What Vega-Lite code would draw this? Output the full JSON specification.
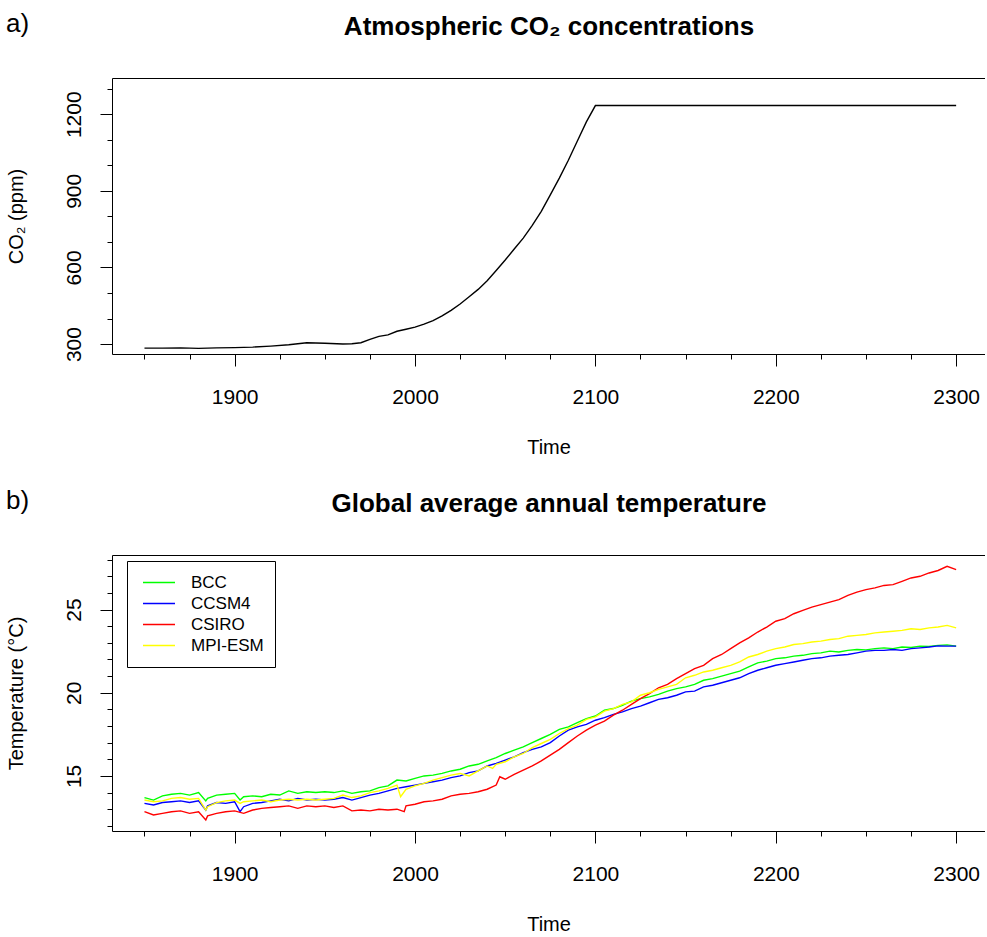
{
  "$schema": "https://vega.github.io/schema/vega-lite/v6.json",
  "padding": {"left": 5, "top": 11, "right": 0, "bottom": 0},
  "spacing": 31,
  "config": {
    "font": "Liberation Sans",
    "view": {"stroke": null},
    "title": {"anchor": "start", "frame": "bounds", "fontSize": 26, "fontWeight": "normal", "color": "black", "offset": 0, "font": "Liberation Sans"},
    "axis": {"domainColor": "black", "tickColor": "black", "labelColor": "black", "titleColor": "black", "labelFont": "Liberation Sans", "titleFont": "Liberation Sans", "labelFontSize": 21, "titleFontSize": 20, "titleFontWeight": "normal", "grid": false, "labelOverlap": false, "labelFlush": false, "domainWidth": 1, "tickWidth": 1}
  },
  "datasets": {
    "co2": [
      {"year": 1850, "co2": 284}, {"year": 1860, "co2": 284}, {"year": 1870, "co2": 285}, {"year": 1880, "co2": 283},
      {"year": 1890, "co2": 285}, {"year": 1900, "co2": 286}, {"year": 1910, "co2": 288}, {"year": 1920, "co2": 292},
      {"year": 1930, "co2": 297}, {"year": 1940, "co2": 305}, {"year": 1950, "co2": 303}, {"year": 1960, "co2": 300},
      {"year": 1965, "co2": 301}, {"year": 1970, "co2": 305}, {"year": 1975, "co2": 318}, {"year": 1980, "co2": 330},
      {"year": 1985, "co2": 336}, {"year": 1990, "co2": 350}, {"year": 1995, "co2": 358}, {"year": 2000, "co2": 366},
      {"year": 2005, "co2": 378}, {"year": 2010, "co2": 392}, {"year": 2015, "co2": 410}, {"year": 2020, "co2": 432},
      {"year": 2025, "co2": 457}, {"year": 2030, "co2": 485}, {"year": 2035, "co2": 514}, {"year": 2040, "co2": 548},
      {"year": 2045, "co2": 588}, {"year": 2050, "co2": 629}, {"year": 2055, "co2": 672}, {"year": 2060, "co2": 715},
      {"year": 2065, "co2": 765}, {"year": 2070, "co2": 820}, {"year": 2075, "co2": 884}, {"year": 2080, "co2": 950},
      {"year": 2085, "co2": 1020}, {"year": 2090, "co2": 1095}, {"year": 2095, "co2": 1170}, {"year": 2100, "co2": 1234},
      {"year": 2300, "co2": 1234}
    ],
    "temp": [
      {"model": "BCC", "year": 1850, "temp": 13.7}, {"model": "BCC", "year": 1855, "temp": 13.55}, {"model": "BCC", "year": 1860, "temp": 13.8}, {"model": "BCC", "year": 1865, "temp": 13.9}, {"model": "BCC", "year": 1870, "temp": 13.95}, {"model": "BCC", "year": 1875, "temp": 13.85}, {"model": "BCC", "year": 1880, "temp": 14.0}, {"model": "BCC", "year": 1884, "temp": 13.5}, {"model": "BCC", "year": 1885, "temp": 13.65}, {"model": "BCC", "year": 1890, "temp": 13.85}, {"model": "BCC", "year": 1895, "temp": 13.9}, {"model": "BCC", "year": 1900, "temp": 13.95}, {"model": "BCC", "year": 1903, "temp": 13.55}, {"model": "BCC", "year": 1905, "temp": 13.75}, {"model": "BCC", "year": 1910, "temp": 13.8}, {"model": "BCC", "year": 1915, "temp": 13.75}, {"model": "BCC", "year": 1920, "temp": 13.9}, {"model": "BCC", "year": 1925, "temp": 13.85}, {"model": "BCC", "year": 1930, "temp": 14.1}, {"model": "BCC", "year": 1935, "temp": 13.95}, {"model": "BCC", "year": 1940, "temp": 14.05}, {"model": "BCC", "year": 1945, "temp": 14.0}, {"model": "BCC", "year": 1950, "temp": 14.05}, {"model": "BCC", "year": 1955, "temp": 14.0}, {"model": "BCC", "year": 1960, "temp": 14.1}, {"model": "BCC", "year": 1965, "temp": 13.95}, {"model": "BCC", "year": 1970, "temp": 14.05}, {"model": "BCC", "year": 1975, "temp": 14.1}, {"model": "BCC", "year": 1980, "temp": 14.3}, {"model": "BCC", "year": 1985, "temp": 14.4}, {"model": "BCC", "year": 1990, "temp": 14.75}, {"model": "BCC", "year": 1995, "temp": 14.7}, {"model": "BCC", "year": 2000, "temp": 14.85}, {"model": "BCC", "year": 2005, "temp": 15.0}, {"model": "BCC", "year": 2010, "temp": 15.05}, {"model": "BCC", "year": 2015, "temp": 15.15}, {"model": "BCC", "year": 2020, "temp": 15.3}, {"model": "BCC", "year": 2025, "temp": 15.4}, {"model": "BCC", "year": 2030, "temp": 15.6}, {"model": "BCC", "year": 2035, "temp": 15.7}, {"model": "BCC", "year": 2040, "temp": 15.9}, {"model": "BCC", "year": 2045, "temp": 16.1}, {"model": "BCC", "year": 2050, "temp": 16.35}, {"model": "BCC", "year": 2055, "temp": 16.55}, {"model": "BCC", "year": 2060, "temp": 16.75}, {"model": "BCC", "year": 2065, "temp": 17.0}, {"model": "BCC", "year": 2070, "temp": 17.25}, {"model": "BCC", "year": 2075, "temp": 17.5}, {"model": "BCC", "year": 2080, "temp": 17.8}, {"model": "BCC", "year": 2085, "temp": 17.95}, {"model": "BCC", "year": 2090, "temp": 18.2}, {"model": "BCC", "year": 2095, "temp": 18.45}, {"model": "BCC", "year": 2100, "temp": 18.6}, {"model": "BCC", "year": 2105, "temp": 18.95}, {"model": "BCC", "year": 2110, "temp": 19.05}, {"model": "BCC", "year": 2115, "temp": 19.25}, {"model": "BCC", "year": 2120, "temp": 19.5}, {"model": "BCC", "year": 2125, "temp": 19.65}, {"model": "BCC", "year": 2130, "temp": 19.75}, {"model": "BCC", "year": 2135, "temp": 19.9}, {"model": "BCC", "year": 2140, "temp": 20.1}, {"model": "BCC", "year": 2145, "temp": 20.25}, {"model": "BCC", "year": 2150, "temp": 20.35}, {"model": "BCC", "year": 2155, "temp": 20.5}, {"model": "BCC", "year": 2160, "temp": 20.75}, {"model": "BCC", "year": 2165, "temp": 20.85}, {"model": "BCC", "year": 2170, "temp": 21.0}, {"model": "BCC", "year": 2175, "temp": 21.15}, {"model": "BCC", "year": 2180, "temp": 21.3}, {"model": "BCC", "year": 2185, "temp": 21.55}, {"model": "BCC", "year": 2190, "temp": 21.8}, {"model": "BCC", "year": 2195, "temp": 21.9}, {"model": "BCC", "year": 2200, "temp": 22.05}, {"model": "BCC", "year": 2205, "temp": 22.1}, {"model": "BCC", "year": 2210, "temp": 22.2}, {"model": "BCC", "year": 2215, "temp": 22.25}, {"model": "BCC", "year": 2220, "temp": 22.35}, {"model": "BCC", "year": 2225, "temp": 22.4}, {"model": "BCC", "year": 2230, "temp": 22.5}, {"model": "BCC", "year": 2235, "temp": 22.45}, {"model": "BCC", "year": 2240, "temp": 22.55}, {"model": "BCC", "year": 2245, "temp": 22.6}, {"model": "BCC", "year": 2250, "temp": 22.58}, {"model": "BCC", "year": 2255, "temp": 22.65}, {"model": "BCC", "year": 2260, "temp": 22.7}, {"model": "BCC", "year": 2265, "temp": 22.65}, {"model": "BCC", "year": 2270, "temp": 22.75}, {"model": "BCC", "year": 2275, "temp": 22.72}, {"model": "BCC", "year": 2280, "temp": 22.8}, {"model": "BCC", "year": 2285, "temp": 22.78}, {"model": "BCC", "year": 2290, "temp": 22.85}, {"model": "BCC", "year": 2295, "temp": 22.88}, {"model": "BCC", "year": 2300, "temp": 22.8},

      {"model": "CCSM4", "year": 1850, "temp": 13.35}, {"model": "CCSM4", "year": 1855, "temp": 13.25}, {"model": "CCSM4", "year": 1860, "temp": 13.4}, {"model": "CCSM4", "year": 1865, "temp": 13.45}, {"model": "CCSM4", "year": 1870, "temp": 13.5}, {"model": "CCSM4", "year": 1875, "temp": 13.4}, {"model": "CCSM4", "year": 1880, "temp": 13.5}, {"model": "CCSM4", "year": 1884, "temp": 12.95}, {"model": "CCSM4", "year": 1885, "temp": 13.2}, {"model": "CCSM4", "year": 1890, "temp": 13.4}, {"model": "CCSM4", "year": 1895, "temp": 13.35}, {"model": "CCSM4", "year": 1900, "temp": 13.45}, {"model": "CCSM4", "year": 1903, "temp": 12.85}, {"model": "CCSM4", "year": 1905, "temp": 13.15}, {"model": "CCSM4", "year": 1910, "temp": 13.35}, {"model": "CCSM4", "year": 1915, "temp": 13.4}, {"model": "CCSM4", "year": 1920, "temp": 13.5}, {"model": "CCSM4", "year": 1925, "temp": 13.6}, {"model": "CCSM4", "year": 1930, "temp": 13.5}, {"model": "CCSM4", "year": 1935, "temp": 13.65}, {"model": "CCSM4", "year": 1940, "temp": 13.55}, {"model": "CCSM4", "year": 1945, "temp": 13.6}, {"model": "CCSM4", "year": 1950, "temp": 13.55}, {"model": "CCSM4", "year": 1955, "temp": 13.6}, {"model": "CCSM4", "year": 1960, "temp": 13.7}, {"model": "CCSM4", "year": 1965, "temp": 13.55}, {"model": "CCSM4", "year": 1970, "temp": 13.7}, {"model": "CCSM4", "year": 1975, "temp": 13.85}, {"model": "CCSM4", "year": 1980, "temp": 13.95}, {"model": "CCSM4", "year": 1985, "temp": 14.1}, {"model": "CCSM4", "year": 1990, "temp": 14.25}, {"model": "CCSM4", "year": 1995, "temp": 14.35}, {"model": "CCSM4", "year": 2000, "temp": 14.45}, {"model": "CCSM4", "year": 2005, "temp": 14.55}, {"model": "CCSM4", "year": 2010, "temp": 14.65}, {"model": "CCSM4", "year": 2015, "temp": 14.75}, {"model": "CCSM4", "year": 2020, "temp": 14.9}, {"model": "CCSM4", "year": 2025, "temp": 15.0}, {"model": "CCSM4", "year": 2030, "temp": 15.2}, {"model": "CCSM4", "year": 2035, "temp": 15.3}, {"model": "CCSM4", "year": 2040, "temp": 15.6}, {"model": "CCSM4", "year": 2045, "temp": 15.75}, {"model": "CCSM4", "year": 2050, "temp": 15.95}, {"model": "CCSM4", "year": 2055, "temp": 16.15}, {"model": "CCSM4", "year": 2060, "temp": 16.4}, {"model": "CCSM4", "year": 2065, "temp": 16.6}, {"model": "CCSM4", "year": 2070, "temp": 16.75}, {"model": "CCSM4", "year": 2075, "temp": 17.0}, {"model": "CCSM4", "year": 2080, "temp": 17.4}, {"model": "CCSM4", "year": 2085, "temp": 17.75}, {"model": "CCSM4", "year": 2090, "temp": 17.95}, {"model": "CCSM4", "year": 2095, "temp": 18.1}, {"model": "CCSM4", "year": 2100, "temp": 18.35}, {"model": "CCSM4", "year": 2105, "temp": 18.5}, {"model": "CCSM4", "year": 2110, "temp": 18.7}, {"model": "CCSM4", "year": 2115, "temp": 18.85}, {"model": "CCSM4", "year": 2120, "temp": 19.05}, {"model": "CCSM4", "year": 2125, "temp": 19.2}, {"model": "CCSM4", "year": 2130, "temp": 19.4}, {"model": "CCSM4", "year": 2135, "temp": 19.6}, {"model": "CCSM4", "year": 2140, "temp": 19.7}, {"model": "CCSM4", "year": 2145, "temp": 19.85}, {"model": "CCSM4", "year": 2150, "temp": 20.05}, {"model": "CCSM4", "year": 2155, "temp": 20.1}, {"model": "CCSM4", "year": 2160, "temp": 20.35}, {"model": "CCSM4", "year": 2165, "temp": 20.45}, {"model": "CCSM4", "year": 2170, "temp": 20.6}, {"model": "CCSM4", "year": 2175, "temp": 20.75}, {"model": "CCSM4", "year": 2180, "temp": 20.9}, {"model": "CCSM4", "year": 2185, "temp": 21.15}, {"model": "CCSM4", "year": 2190, "temp": 21.35}, {"model": "CCSM4", "year": 2195, "temp": 21.5}, {"model": "CCSM4", "year": 2200, "temp": 21.65}, {"model": "CCSM4", "year": 2205, "temp": 21.75}, {"model": "CCSM4", "year": 2210, "temp": 21.85}, {"model": "CCSM4", "year": 2215, "temp": 21.95}, {"model": "CCSM4", "year": 2220, "temp": 22.05}, {"model": "CCSM4", "year": 2225, "temp": 22.1}, {"model": "CCSM4", "year": 2230, "temp": 22.2}, {"model": "CCSM4", "year": 2235, "temp": 22.25}, {"model": "CCSM4", "year": 2240, "temp": 22.3}, {"model": "CCSM4", "year": 2245, "temp": 22.4}, {"model": "CCSM4", "year": 2250, "temp": 22.5}, {"model": "CCSM4", "year": 2255, "temp": 22.55}, {"model": "CCSM4", "year": 2260, "temp": 22.55}, {"model": "CCSM4", "year": 2265, "temp": 22.6}, {"model": "CCSM4", "year": 2270, "temp": 22.55}, {"model": "CCSM4", "year": 2275, "temp": 22.65}, {"model": "CCSM4", "year": 2280, "temp": 22.7}, {"model": "CCSM4", "year": 2285, "temp": 22.75}, {"model": "CCSM4", "year": 2290, "temp": 22.82}, {"model": "CCSM4", "year": 2295, "temp": 22.8}, {"model": "CCSM4", "year": 2300, "temp": 22.8},

      {"model": "CSIRO", "year": 1850, "temp": 12.85}, {"model": "CSIRO", "year": 1855, "temp": 12.65}, {"model": "CSIRO", "year": 1860, "temp": 12.75}, {"model": "CSIRO", "year": 1865, "temp": 12.85}, {"model": "CSIRO", "year": 1870, "temp": 12.9}, {"model": "CSIRO", "year": 1875, "temp": 12.75}, {"model": "CSIRO", "year": 1880, "temp": 12.85}, {"model": "CSIRO", "year": 1884, "temp": 12.35}, {"model": "CSIRO", "year": 1885, "temp": 12.6}, {"model": "CSIRO", "year": 1890, "temp": 12.75}, {"model": "CSIRO", "year": 1895, "temp": 12.85}, {"model": "CSIRO", "year": 1900, "temp": 12.9}, {"model": "CSIRO", "year": 1905, "temp": 12.75}, {"model": "CSIRO", "year": 1910, "temp": 12.95}, {"model": "CSIRO", "year": 1915, "temp": 13.05}, {"model": "CSIRO", "year": 1920, "temp": 13.1}, {"model": "CSIRO", "year": 1925, "temp": 13.15}, {"model": "CSIRO", "year": 1930, "temp": 13.2}, {"model": "CSIRO", "year": 1935, "temp": 13.05}, {"model": "CSIRO", "year": 1940, "temp": 13.2}, {"model": "CSIRO", "year": 1945, "temp": 13.15}, {"model": "CSIRO", "year": 1950, "temp": 13.2}, {"model": "CSIRO", "year": 1955, "temp": 13.1}, {"model": "CSIRO", "year": 1960, "temp": 13.2}, {"model": "CSIRO", "year": 1965, "temp": 12.9}, {"model": "CSIRO", "year": 1970, "temp": 12.95}, {"model": "CSIRO", "year": 1975, "temp": 12.9}, {"model": "CSIRO", "year": 1980, "temp": 13.0}, {"model": "CSIRO", "year": 1985, "temp": 12.95}, {"model": "CSIRO", "year": 1990, "temp": 13.0}, {"model": "CSIRO", "year": 1994, "temp": 12.85}, {"model": "CSIRO", "year": 1995, "temp": 13.2}, {"model": "CSIRO", "year": 2000, "temp": 13.3}, {"model": "CSIRO", "year": 2005, "temp": 13.45}, {"model": "CSIRO", "year": 2010, "temp": 13.5}, {"model": "CSIRO", "year": 2015, "temp": 13.6}, {"model": "CSIRO", "year": 2020, "temp": 13.8}, {"model": "CSIRO", "year": 2025, "temp": 13.9}, {"model": "CSIRO", "year": 2030, "temp": 13.95}, {"model": "CSIRO", "year": 2035, "temp": 14.05}, {"model": "CSIRO", "year": 2040, "temp": 14.2}, {"model": "CSIRO", "year": 2045, "temp": 14.45}, {"model": "CSIRO", "year": 2047, "temp": 14.95}, {"model": "CSIRO", "year": 2050, "temp": 14.8}, {"model": "CSIRO", "year": 2055, "temp": 15.1}, {"model": "CSIRO", "year": 2060, "temp": 15.35}, {"model": "CSIRO", "year": 2065, "temp": 15.6}, {"model": "CSIRO", "year": 2070, "temp": 15.9}, {"model": "CSIRO", "year": 2075, "temp": 16.25}, {"model": "CSIRO", "year": 2080, "temp": 16.6}, {"model": "CSIRO", "year": 2085, "temp": 17.0}, {"model": "CSIRO", "year": 2090, "temp": 17.4}, {"model": "CSIRO", "year": 2095, "temp": 17.75}, {"model": "CSIRO", "year": 2100, "temp": 18.05}, {"model": "CSIRO", "year": 2105, "temp": 18.3}, {"model": "CSIRO", "year": 2110, "temp": 18.65}, {"model": "CSIRO", "year": 2115, "temp": 18.95}, {"model": "CSIRO", "year": 2120, "temp": 19.3}, {"model": "CSIRO", "year": 2125, "temp": 19.65}, {"model": "CSIRO", "year": 2130, "temp": 19.95}, {"model": "CSIRO", "year": 2135, "temp": 20.3}, {"model": "CSIRO", "year": 2140, "temp": 20.5}, {"model": "CSIRO", "year": 2145, "temp": 20.85}, {"model": "CSIRO", "year": 2150, "temp": 21.15}, {"model": "CSIRO", "year": 2155, "temp": 21.45}, {"model": "CSIRO", "year": 2160, "temp": 21.65}, {"model": "CSIRO", "year": 2165, "temp": 22.05}, {"model": "CSIRO", "year": 2170, "temp": 22.3}, {"model": "CSIRO", "year": 2175, "temp": 22.65}, {"model": "CSIRO", "year": 2180, "temp": 23.0}, {"model": "CSIRO", "year": 2185, "temp": 23.3}, {"model": "CSIRO", "year": 2190, "temp": 23.65}, {"model": "CSIRO", "year": 2195, "temp": 23.95}, {"model": "CSIRO", "year": 2200, "temp": 24.3}, {"model": "CSIRO", "year": 2205, "temp": 24.45}, {"model": "CSIRO", "year": 2210, "temp": 24.75}, {"model": "CSIRO", "year": 2215, "temp": 24.95}, {"model": "CSIRO", "year": 2220, "temp": 25.15}, {"model": "CSIRO", "year": 2225, "temp": 25.3}, {"model": "CSIRO", "year": 2230, "temp": 25.45}, {"model": "CSIRO", "year": 2235, "temp": 25.6}, {"model": "CSIRO", "year": 2240, "temp": 25.85}, {"model": "CSIRO", "year": 2245, "temp": 26.05}, {"model": "CSIRO", "year": 2250, "temp": 26.2}, {"model": "CSIRO", "year": 2255, "temp": 26.3}, {"model": "CSIRO", "year": 2260, "temp": 26.45}, {"model": "CSIRO", "year": 2265, "temp": 26.5}, {"model": "CSIRO", "year": 2270, "temp": 26.7}, {"model": "CSIRO", "year": 2275, "temp": 26.9}, {"model": "CSIRO", "year": 2280, "temp": 27.0}, {"model": "CSIRO", "year": 2285, "temp": 27.2}, {"model": "CSIRO", "year": 2290, "temp": 27.35}, {"model": "CSIRO", "year": 2295, "temp": 27.6}, {"model": "CSIRO", "year": 2300, "temp": 27.4},

      {"model": "MPI-ESM", "year": 1850, "temp": 13.55}, {"model": "MPI-ESM", "year": 1855, "temp": 13.45}, {"model": "MPI-ESM", "year": 1860, "temp": 13.5}, {"model": "MPI-ESM", "year": 1865, "temp": 13.65}, {"model": "MPI-ESM", "year": 1870, "temp": 13.7}, {"model": "MPI-ESM", "year": 1875, "temp": 13.6}, {"model": "MPI-ESM", "year": 1880, "temp": 13.65}, {"model": "MPI-ESM", "year": 1884, "temp": 12.95}, {"model": "MPI-ESM", "year": 1885, "temp": 13.15}, {"model": "MPI-ESM", "year": 1890, "temp": 13.4}, {"model": "MPI-ESM", "year": 1895, "temp": 13.5}, {"model": "MPI-ESM", "year": 1900, "temp": 13.55}, {"model": "MPI-ESM", "year": 1903, "temp": 13.35}, {"model": "MPI-ESM", "year": 1905, "temp": 13.45}, {"model": "MPI-ESM", "year": 1910, "temp": 13.5}, {"model": "MPI-ESM", "year": 1915, "temp": 13.55}, {"model": "MPI-ESM", "year": 1920, "temp": 13.45}, {"model": "MPI-ESM", "year": 1925, "temp": 13.55}, {"model": "MPI-ESM", "year": 1930, "temp": 13.6}, {"model": "MPI-ESM", "year": 1935, "temp": 13.55}, {"model": "MPI-ESM", "year": 1940, "temp": 13.6}, {"model": "MPI-ESM", "year": 1945, "temp": 13.55}, {"model": "MPI-ESM", "year": 1950, "temp": 13.6}, {"model": "MPI-ESM", "year": 1955, "temp": 13.65}, {"model": "MPI-ESM", "year": 1960, "temp": 13.85}, {"model": "MPI-ESM", "year": 1965, "temp": 13.7}, {"model": "MPI-ESM", "year": 1970, "temp": 13.8}, {"model": "MPI-ESM", "year": 1975, "temp": 14.0}, {"model": "MPI-ESM", "year": 1980, "temp": 14.1}, {"model": "MPI-ESM", "year": 1985, "temp": 14.25}, {"model": "MPI-ESM", "year": 1990, "temp": 14.45}, {"model": "MPI-ESM", "year": 1992, "temp": 13.75}, {"model": "MPI-ESM", "year": 1995, "temp": 14.2}, {"model": "MPI-ESM", "year": 2000, "temp": 14.4}, {"model": "MPI-ESM", "year": 2005, "temp": 14.55}, {"model": "MPI-ESM", "year": 2010, "temp": 14.75}, {"model": "MPI-ESM", "year": 2015, "temp": 14.9}, {"model": "MPI-ESM", "year": 2020, "temp": 15.05}, {"model": "MPI-ESM", "year": 2025, "temp": 15.15}, {"model": "MPI-ESM", "year": 2030, "temp": 15.0}, {"model": "MPI-ESM", "year": 2035, "temp": 15.3}, {"model": "MPI-ESM", "year": 2040, "temp": 15.6}, {"model": "MPI-ESM", "year": 2043, "temp": 15.45}, {"model": "MPI-ESM", "year": 2045, "temp": 15.7}, {"model": "MPI-ESM", "year": 2050, "temp": 15.85}, {"model": "MPI-ESM", "year": 2055, "temp": 16.15}, {"model": "MPI-ESM", "year": 2060, "temp": 16.35}, {"model": "MPI-ESM", "year": 2065, "temp": 16.7}, {"model": "MPI-ESM", "year": 2070, "temp": 16.95}, {"model": "MPI-ESM", "year": 2075, "temp": 17.2}, {"model": "MPI-ESM", "year": 2080, "temp": 17.55}, {"model": "MPI-ESM", "year": 2085, "temp": 17.85}, {"model": "MPI-ESM", "year": 2090, "temp": 18.05}, {"model": "MPI-ESM", "year": 2095, "temp": 18.4}, {"model": "MPI-ESM", "year": 2100, "temp": 18.55}, {"model": "MPI-ESM", "year": 2105, "temp": 18.9}, {"model": "MPI-ESM", "year": 2110, "temp": 19.05}, {"model": "MPI-ESM", "year": 2115, "temp": 19.3}, {"model": "MPI-ESM", "year": 2120, "temp": 19.45}, {"model": "MPI-ESM", "year": 2125, "temp": 19.85}, {"model": "MPI-ESM", "year": 2130, "temp": 20.0}, {"model": "MPI-ESM", "year": 2135, "temp": 20.2}, {"model": "MPI-ESM", "year": 2140, "temp": 20.35}, {"model": "MPI-ESM", "year": 2145, "temp": 20.5}, {"model": "MPI-ESM", "year": 2150, "temp": 20.9}, {"model": "MPI-ESM", "year": 2155, "temp": 21.05}, {"model": "MPI-ESM", "year": 2160, "temp": 21.25}, {"model": "MPI-ESM", "year": 2165, "temp": 21.35}, {"model": "MPI-ESM", "year": 2170, "temp": 21.5}, {"model": "MPI-ESM", "year": 2175, "temp": 21.65}, {"model": "MPI-ESM", "year": 2180, "temp": 21.85}, {"model": "MPI-ESM", "year": 2185, "temp": 22.15}, {"model": "MPI-ESM", "year": 2190, "temp": 22.3}, {"model": "MPI-ESM", "year": 2195, "temp": 22.5}, {"model": "MPI-ESM", "year": 2200, "temp": 22.65}, {"model": "MPI-ESM", "year": 2205, "temp": 22.75}, {"model": "MPI-ESM", "year": 2210, "temp": 22.9}, {"model": "MPI-ESM", "year": 2215, "temp": 22.95}, {"model": "MPI-ESM", "year": 2220, "temp": 23.05}, {"model": "MPI-ESM", "year": 2225, "temp": 23.1}, {"model": "MPI-ESM", "year": 2230, "temp": 23.2}, {"model": "MPI-ESM", "year": 2235, "temp": 23.25}, {"model": "MPI-ESM", "year": 2240, "temp": 23.4}, {"model": "MPI-ESM", "year": 2245, "temp": 23.45}, {"model": "MPI-ESM", "year": 2250, "temp": 23.5}, {"model": "MPI-ESM", "year": 2255, "temp": 23.6}, {"model": "MPI-ESM", "year": 2260, "temp": 23.65}, {"model": "MPI-ESM", "year": 2265, "temp": 23.7}, {"model": "MPI-ESM", "year": 2270, "temp": 23.75}, {"model": "MPI-ESM", "year": 2275, "temp": 23.85}, {"model": "MPI-ESM", "year": 2280, "temp": 23.8}, {"model": "MPI-ESM", "year": 2285, "temp": 23.9}, {"model": "MPI-ESM", "year": 2290, "temp": 23.95}, {"model": "MPI-ESM", "year": 2295, "temp": 24.05}, {"model": "MPI-ESM", "year": 2300, "temp": 23.9}
    ]
  },
  "vconcat": [
    {
      "title": {"text": "a)", "dy": 28},
      "width": 873,
      "height": 276,
      "data": {"name": "co2"},
      "layer": [
        {
          "mark": {"type": "line", "color": "black", "strokeWidth": 1.4},
          "encoding": {
            "x": {"field": "year", "type": "quantitative", "scale": {"domain": [1832, 2316], "nice": false, "zero": false},
              "axis": {"orient": "bottom", "values": [1850, 1875, 1900, 1925, 1950, 1975, 2000, 2025, 2050, 2075, 2100, 2125, 2150, 2175, 2200, 2225, 2250, 2275, 2300],
                "labelExpr": "datum.value % 100 === 0 ? datum.value : ''",
                "tickSize": {"condition": {"test": "datum.value % 100 === 0", "value": 12}, "value": 5},
                "labelPadding": 20, "title": "Time", "titlePadding": 30}},
            "y": {"field": "co2", "type": "quantitative", "scale": {"domain": [261, 1342], "nice": false, "zero": false},
              "axis": {"values": [300, 400, 500, 600, 700, 800, 900, 1000, 1100, 1200, 1300],
                "labelExpr": "datum.value % 300 === 0 ? datum.value : ''",
                "tickSize": {"condition": {"test": "datum.value % 300 === 0", "value": 12}, "value": 5},
                "labelOverlap": false, "labelBound": false,
                "labelAngle": 270, "labelAlign": "center", "labelBaseline": "alphabetic", "labelPadding": 20,
                "title": "CO₂ (ppm)", "titlePadding": 37}}
          }
        },
        {
          "mark": {"type": "line", "strokeOpacity": 0},
          "encoding": {
            "x": {"field": "year", "type": "quantitative", "scale": {"domain": [1832, 2316], "nice": false, "zero": false},
              "axis": {"orient": "top", "ticks": false, "labels": false, "title": "Atmospheric CO₂ concentrations", "titleFontSize": 26, "titleFontWeight": "bold", "titleBaseline": "alphabetic", "titlePadding": 44}}
          }
        }
      ],
      "resolve": {"axis": {"x": "independent"}}
    },
    {
      "title": {"text": "b)", "dy": 28},
      "width": 873,
      "height": 276,
      "data": {"name": "temp"},
      "layer": [
        {
          "mark": {"type": "line", "strokeWidth": 1.4},
          "encoding": {
            "x": {"field": "year", "type": "quantitative", "scale": {"domain": [1832, 2316], "nice": false, "zero": false},
              "axis": {"orient": "bottom", "values": [1850, 1875, 1900, 1925, 1950, 1975, 2000, 2025, 2050, 2075, 2100, 2125, 2150, 2175, 2200, 2225, 2250, 2275, 2300],
                "labelExpr": "datum.value % 100 === 0 ? datum.value : ''",
                "tickSize": {"condition": {"test": "datum.value % 100 === 0", "value": 12}, "value": 5},
                "labelPadding": 20, "title": "Time", "titlePadding": 30}},
            "y": {"field": "temp", "type": "quantitative", "scale": {"domain": [11.69, 28.28], "nice": false, "zero": false},
              "axis": {"values": [12, 13, 14, 15, 16, 17, 18, 19, 20, 21, 22, 23, 24, 25, 26, 27, 28],
                "labelExpr": "datum.value % 5 === 0 ? datum.value : ''",
                "tickSize": {"condition": {"test": "datum.value % 5 === 0", "value": 12}, "value": 5},
                "labelOverlap": false, "labelBound": false,
                "labelAngle": 270, "labelAlign": "center", "labelBaseline": "alphabetic", "labelPadding": 20,
                "title": "Temperature (°C)", "titlePadding": 37}},
            "color": {"field": "model", "type": "nominal",
              "scale": {"domain": ["BCC", "CCSM4", "CSIRO", "MPI-ESM"], "range": ["#00ff00", "#0000ff", "#ff0000", "#ffff00"]},
              "legend": {"orient": "none", "legendX": 15, "legendY": 6, "title": null, "strokeColor": "black", "fillColor": "white", "padding": 11,
                "symbolType": "stroke", "symbolSize": 1024, "symbolStrokeWidth": 1.5, "symbolOffset": 4, "clipHeight": 21, "labelFontSize": 17, "labelFont": "Liberation Sans", "labelColor": "black", "labelOffset": 15, "rowPadding": 0}}
          }
        },
        {
          "mark": {"type": "line", "strokeOpacity": 0},
          "encoding": {
            "x": {"field": "year", "type": "quantitative", "scale": {"domain": [1832, 2316], "nice": false, "zero": false},
              "axis": {"orient": "top", "ticks": false, "labels": false, "title": "Global average annual temperature", "titleFontSize": 26, "titleFontWeight": "bold", "titleBaseline": "alphabetic", "titlePadding": 44}}
          }
        }
      ],
      "resolve": {"axis": {"x": "independent"}}
    }
  ],
  "resolve": {"legend": {"color": "independent"}, "scale": {"x": "independent", "y": "independent", "color": "independent"}}
}
